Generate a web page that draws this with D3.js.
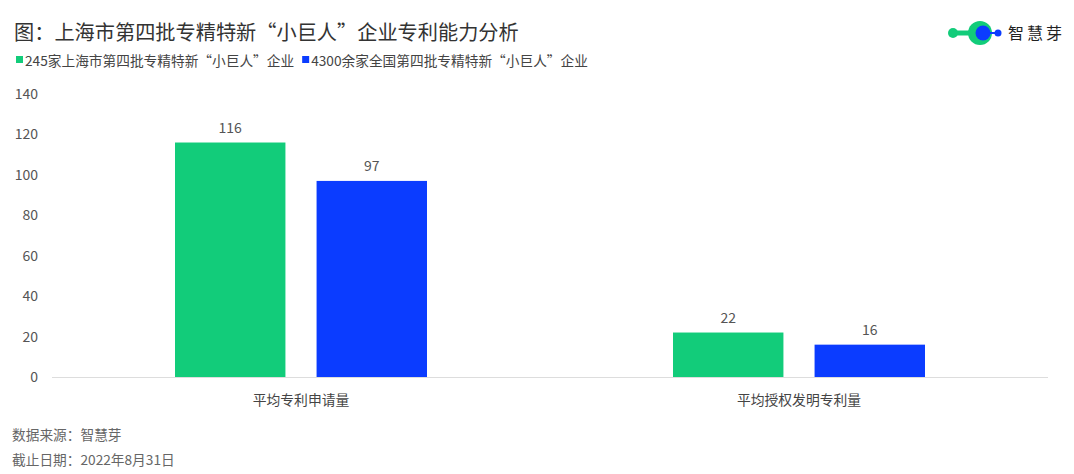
<!DOCTYPE html>
<html><head><meta charset="utf-8">
<script src="https://cdn.jsdelivr.net/npm/d3@7"></script>
<style>body{margin:0;background:#fff;font-family:"Noto Sans CJK SC","Noto Sans",sans-serif;}</style>
</head><body><svg id="c" width="1074" height="474"></svg>
<script>
const categories = ["平均专利申请量", "平均授权发明专利量"];
const seriesNames = ["245家上海市第四批专精特新“小巨人”企业", "4300余家全国第四批专精特新“小巨人”企业"];
const shanghai = [116, 22];
const national = [97, 16];
const yTicks = [0, 20, 40, 60, 80, 100, 120, 140];
const colors = ["#12cc7a", "#0b3cff"];

const svg = d3.select("#c");
const F = '"Noto Sans CJK SC", sans-serif';
svg.append("rect").attr("width",1074).attr("height",474).attr("fill","#fff");

svg.append("text").attr("x",14).attr("y",40).attr("font-size",20.2).attr("fill","#333").attr("font-family",F)
  .text("图：上海市第四批专精特新“小巨人”企业专利能力分析");

// legend
const lg = svg.append("g");
let lx = 16;
seriesNames.forEach((n,i)=>{
  lg.append("rect").attr("x",lx).attr("y",56).attr("width",7).attr("height",7).attr("fill",colors[i]);
  const t = lg.append("text").attr("x",lx+9).attr("y",65.5).attr("font-size",13.7).attr("fill","#444").attr("font-family",F).text(n);
  lx += 9 + t.node().getComputedTextLength() + 8;
});

// logo
const logo = svg.append("g");
logo.append("line").attr("x1",953).attr("y1",33).attr("x2",983).attr("y2",33).attr("stroke","#12cc7a").attr("stroke-width",5);
logo.append("circle").attr("cx",953).attr("cy",33).attr("r",5).attr("fill","#12cc7a");
logo.append("circle").attr("cx",980).attr("cy",33).attr("r",12).attr("fill","#12cc7a");
logo.append("line").attr("x1",984).attr("y1",33).attr("x2",998).attr("y2",33).attr("stroke","#0b3cff").attr("stroke-width",2);
logo.append("circle").attr("cx",983).attr("cy",33).attr("r",7.5).attr("fill","#0b3cff");
logo.append("circle").attr("cx",998).attr("cy",33).attr("r",3.5).attr("fill","#0b3cff");
logo.append("text").attr("x",1008).attr("y",39).attr("font-size",16).attr("letter-spacing",3).attr("fill","#222").attr("font-family",F).text("智慧芽");

const x0 = d3.scaleBand().domain(categories).range([52,1048]);
const x1 = d3.scaleBand().domain([0,1]).range([0,252]).paddingInner(0.22);
const y = d3.scaleLinear().domain([0,140]).range([377,94]);

// y axis labels
svg.append("g").selectAll("text").data(yTicks).join("text")
  .attr("x",38).attr("y",d=>y(d)+5).attr("text-anchor","end").attr("font-size",14).attr("fill","#555").attr("font-family",F).text(d=>d);

svg.append("line").attr("x1",52).attr("x2",1048).attr("y1",377.5).attr("y2",377.5).attr("stroke","#ddd");

const data = categories.map((c,i)=>({c, v:[shanghai[i], national[i]]}));
const g = svg.append("g");
data.forEach(d=>{
  const cx = x0(d.c) + x0.bandwidth()/2 - 126;
  d.v.forEach((v,j)=>{
    g.append("rect").attr("x",cx + x1(j)).attr("y",y(v)).attr("width",x1.bandwidth()).attr("height",y(0)-y(v)).attr("fill",colors[j]);
    g.append("text").attr("x",cx + x1(j) + x1.bandwidth()/2).attr("y",y(v)-10).attr("text-anchor","middle")
      .attr("font-size",14).attr("fill","#555").attr("font-family",F).text(v);
  });
  svg.append("text").attr("x",x0(d.c)+x0.bandwidth()/2).attr("y",405).attr("text-anchor","middle").attr("font-size",13.8).attr("fill","#444").attr("font-family",F).text(d.c);
});

svg.append("text").attr("x",12).attr("y",440).attr("font-size",13.7).attr("fill","#666").attr("font-family",F).text("数据来源：智慧芽");
svg.append("text").attr("x",12).attr("y",465).attr("font-size",13.7).attr("fill","#666").attr("font-family",F).text("截止日期：2022年8月31日");
</script></body></html>
